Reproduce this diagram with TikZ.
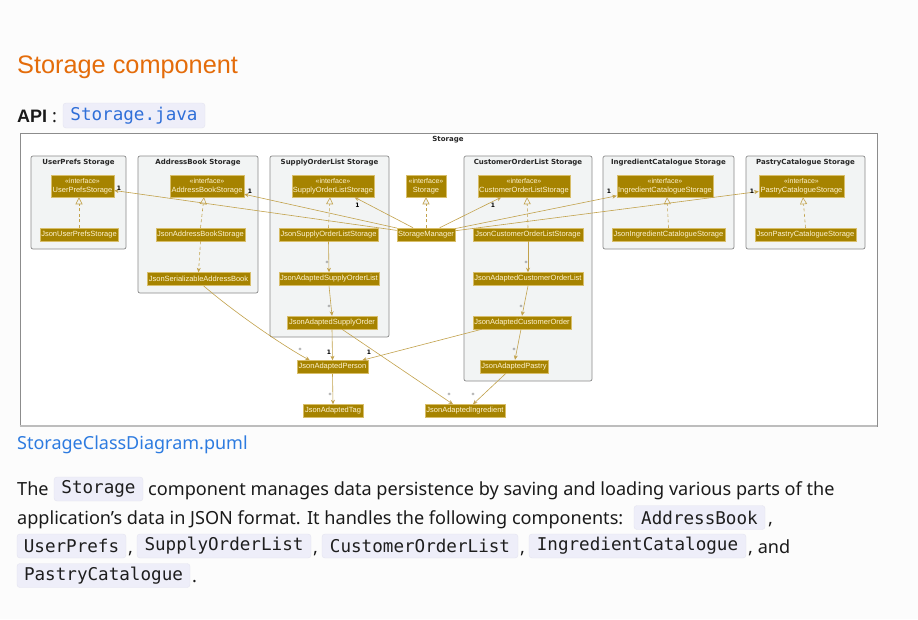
\documentclass[tikz,border=0pt]{standalone}
\usepackage{fontspec}
\setmainfont{Liberation Sans}
\setmonofont{DejaVu Sans Mono}
\newfontfamily\djv{DejaVu Sans}
\newfontfamily\bodyfont{Noto Sans}
\usetikzlibrary{arrows.meta}
\definecolor{pagebg}{HTML}{FCFCFC}
\definecolor{titleor}{HTML}{E46C0A}
\definecolor{codebg}{HTML}{EEEEF9}
\definecolor{codeedge}{HTML}{E4E4F0}
\definecolor{codeblue}{HTML}{2F6FD8}
\definecolor{codetext}{HTML}{1E1E1E}
\definecolor{linkblue}{HTML}{2D7BE0}
\definecolor{bodytext}{HTML}{1A1A1A}
\definecolor{gold}{HTML}{A68300}
\definecolor{goldedge}{HTML}{D8BE6A}
\definecolor{goldline}{HTML}{C2A24C}
\definecolor{goldtext}{HTML}{FFF4D2}
\definecolor{pkgfill}{HTML}{F2F4F4}
\definecolor{pkgline}{HTML}{8A8A8A}
\definecolor{frameline}{HTML}{8C8C8C}
\definecolor{frameshadow}{HTML}{BDBDBD}
\begin{document}
\begin{tikzpicture}[x=1pt,y=-1pt,
  cls/.style={rectangle, fill=gold, draw=goldedge, line width=0.5pt, text=goldtext,
    font=\fontsize{7.5}{9}\selectfont, inner sep=0pt, minimum height=13pt},
  iface/.style={cls, minimum height=22pt, align=center},
  pkg/.style={rectangle, rounded corners=2pt, fill=pkgfill, draw=pkgline, line width=0.7pt, inner sep=0pt},
  pkgtitle/.style={font=\djv\bfseries\fontsize{7}{8}\selectfont, inner sep=0pt, text=black!85},
  assoc/.style={draw=goldline, line width=0.6pt, -{Stealth[length=4.5pt,width=4pt,inset=1.5pt]}},
  real/.style={draw=goldline, line width=0.6pt, dash pattern=on 3pt off 2.5pt,
    -{Triangle[length=7pt,width=7pt,fill=pkgfill]}},
  dep/.style={draw=goldline, line width=0.6pt, dash pattern=on 3pt off 2.5pt,
    -{Stealth[length=4.5pt,width=4pt,inset=1.5pt]}},
  one/.style={font=\djv\bfseries\fontsize{6}{7}\selectfont, inner sep=0pt},
  star/.style={font=\djv\fontsize{6}{7}\selectfont, text=black!60, inner sep=0pt},
  codebox/.style={rectangle, rounded corners=3pt, fill=codebg, draw=codeedge, line width=0.4pt,
    inner sep=0pt, minimum height=24pt, font=\ttfamily\fontsize{17.6}{20}\selectfont, text=codetext},
  body/.style={inner sep=0pt, anchor=base west, font=\bodyfont\fontsize{18.1}{21}\selectfont, text=bodytext}
]
\fill[pagebg] (0,0) rectangle (918,619);
\useasboundingbox (0,0) rectangle (918,619);

% ---------- header ----------
\node[inner sep=0pt, anchor=base west, font=\fontsize{25.3}{30}\selectfont, text=titleor] (title) at (17,73) {Storage component};
\node[inner sep=0pt, anchor=base west, font=\bfseries\fontsize{18}{22}\selectfont, text=bodytext] (api) at (17,122.5) {API};
\node[body] (apicolon) at (52,122.5) {:};
\node[codebox, minimum width=142pt, minimum height=25pt, text=codeblue] (apicode) at (134,115.5) {Storage.java};

% ---------- diagram frame ----------
\node[rectangle, fill=white, draw=frameline, line width=0.8pt, minimum width=857pt, minimum height=293pt, inner sep=0pt] (frame) at (448.5,279.5) {};
\draw[frameshadow, line width=2pt] (frame.south west) -- (frame.south east);
\node[pkgtitle] (frametitle) at (448,139.5) {Storage};

% packages
\node[pkg, minimum width=95pt, minimum height=93pt] (p1) at (78.5,202.5) {};
\node[pkg, minimum width=120pt, minimum height=137pt] (p2) at (198,224.5) {};
\node[pkg, minimum width=119pt, minimum height=181pt] (p3) at (329.5,246.5) {};
\node[pkg, minimum width=128pt, minimum height=225pt] (p4) at (528,268.5) {};
\node[pkg, minimum width=131pt, minimum height=93pt] (p5) at (668.5,202.5) {};
\node[pkg, minimum width=119pt, minimum height=93pt] (p6) at (805.5,202.5) {};
\node[pkgtitle] (p1t) at ([yshift=-6.5pt]p1.north) {UserPrefs Storage};
\node[pkgtitle] (p2t) at ([yshift=-6.5pt]p2.north) {AddressBook Storage};
\node[pkgtitle] (p3t) at ([yshift=-6.5pt]p3.north) {SupplyOrderList Storage};
\node[pkgtitle] (p4t) at ([yshift=-6.5pt]p4.north) {CustomerOrderList Storage};
\node[pkgtitle] (p5t) at ([yshift=-6.5pt]p5.north) {IngredientCatalogue Storage};
\node[pkgtitle] (p6t) at ([yshift=-6.5pt]p6.north) {PastryCatalogue Storage};

% classes
\node[iface, minimum width=63pt] (ups) at (82.5,186) {{\fontsize{7}{9}\selectfont «interface»}\\UserPrefsStorage};
\node[cls, minimum width=78pt] (jups) at (79,234.5) {JsonUserPrefsStorage};
\node[iface, minimum width=74pt] (abs) at (207,186) {{\fontsize{7}{9}\selectfont «interface»}\\AddressBookStorage};
\node[cls, minimum width=89pt] (jabs) at (200.5,234.5) {JsonAddressBookStorage};
\node[cls, minimum width=103pt] (jsab) at (198.5,279) {JsonSerializableAddressBook};
\node[iface, minimum width=82pt] (sols) at (333,186) {{\fontsize{7}{9}\selectfont «interface»}\\SupplyOrderListStorage};
\node[iface, minimum width=40pt] (st) at (426,186) {{\fontsize{7}{9}\selectfont «interface»}\\Storage};
\node[iface, minimum width=92pt] (cols) at (524,186) {{\fontsize{7}{9}\selectfont «interface»}\\CustomerOrderListStorage};
\node[cls, minimum width=99pt] (jsols) at (328.5,234.5) {JsonSupplyOrderListStorage};
\node[cls, minimum width=58pt] (sm) at (426,234.5) {StorageManager};
\node[cls, minimum width=110pt] (jcols) at (528,234.5) {JsonCustomerOrderListStorage};
\node[iface, minimum width=96pt] (ics) at (665,186) {{\fontsize{7}{9}\selectfont «interface»}\\IngredientCatalogueStorage};
\node[cls, minimum width=113pt] (jics) at (668.5,234.5) {JsonIngredientCatalogueStorage};
\node[iface, minimum width=85pt] (pcs) at (801.5,186) {{\fontsize{7}{9}\selectfont «interface»}\\PastryCatalogueStorage};
\node[cls, minimum width=101pt] (jpcs) at (805.5,234.5) {JsonPastryCatalogueStorage};
\node[cls, minimum width=100pt] (jasol) at (329,279) {JsonAdaptedSupplyOrderList};
\node[cls, minimum width=90pt] (jaso) at (332,322.5) {JsonAdaptedSupplyOrder};
\node[cls, minimum width=110pt] (jacol) at (528,279) {JsonAdaptedCustomerOrderList};
\node[cls, minimum width=98pt] (jaco) at (522,322.5) {JsonAdaptedCustomerOrder};
\node[cls, minimum width=68pt] (jap) at (514,366.5) {JsonAdaptedPastry};
\node[cls, minimum width=71pt] (japer) at (332.5,367) {JsonAdaptedPerson};
\node[cls, minimum width=60pt] (jat) at (333,411) {JsonAdaptedTag};
\node[cls, minimum width=80pt] (jai) at (465,411) {JsonAdaptedIngredient};

% realizations
\draw[real] (jups.north) -- (jups.north |- ups.south);
\draw[real] (jabs.north) -- ([xshift=-3pt]abs.south);
\draw[real] (jsols.north) -- ([xshift=-3pt]sols.south);
\draw[real] (sm.north) -- (st.south);
\draw[real] (jcols.north) -- ([xshift=3pt]cols.south);
\draw[real] (jics.north) -- ([xshift=2pt]ics.south);
\draw[real] (jpcs.north) -- ([xshift=1.5pt]pcs.south);
\draw[dep] (jabs.south) -- (jsab.north);

% StorageManager associations
\draw[assoc] (sm) -- (ups);
\draw[assoc] (sm) -- (abs);
\draw[assoc] (sm) -- (sols);
\draw[assoc] (sm) -- (cols);
\draw[assoc] (sm) -- (ics);
\draw[assoc] (sm) -- (pcs);
\node[one] (m1) at (119,188) {1};
\node[one] (m2) at (250,191) {1};
\node[one] (m3) at (357.5,205) {1};
\node[one] (m4) at (493,205) {1};
\node[one] (m5) at (609,191) {1};
\node[one] (m6) at (752,191) {1};

% data associations
\draw[assoc] (jsols.south) -- (jasol.north);
\draw[assoc] (jasol.south) -- (jaso.north);
\draw[assoc] (jcols.south) -- (jacol.north);
\draw[assoc] (jacol.south) -- (jaco.north);
\draw[assoc] ([xshift=-1pt]jaco.south) -- ([xshift=1pt]jap.north);
\draw[assoc] ([xshift=5pt]jsab.south) .. controls (235,313) and (285,347) .. ([xshift=13pt]japer.north west);
\draw[assoc] (jaso.south) -- (japer.north);
\draw[assoc] ([xshift=9pt]jaco.south west) -- ([xshift=-6pt]japer.north east);
\draw[assoc] ([xshift=10pt]jaso.south) -- ([xshift=-12pt]jai.north);
\draw[assoc] ([xshift=-8pt]jap.south) -- ([xshift=8pt]jai.north);
\draw[assoc] (japer.south) -- (jat.north);
\node[star] (s1) at (327,263) {*};
\node[star] (s2) at (329,307) {*};
\node[star] (s3) at (526,263) {*};
\node[star] (s4) at (521,307) {*};
\node[star] (s5) at (514,350) {*};
\node[star] (s6) at (300,350) {*};
\node[star] (s7) at (449,395) {*};
\node[star] (s8) at (473,395) {*};
\node[star] (s9) at (330,395) {*};
\node[one] (o1) at (329,352) {1};
\node[one] (o2) at (369,352) {1};

% ---------- text below ----------
\node[inner sep=0pt, anchor=base west, font=\bodyfont\fontsize{18}{22}\selectfont, text=linkblue] (link) at (17,449) {StorageClassDiagram.puml};

\node[body] (l1a) at (17,495.5) {The};
\node[codebox, minimum width=89pt] (c1) at (98.5,489) {Storage};
\node[body] (l1b) at (148,495.5) {component manages data persistence by saving and loading various parts of the};

\node[body] (l2a) at (17,524) {application’s data in JSON format. It handles the following components:};
\node[codebox, minimum width=131pt] (c2) at (699.5,517.5) {AddressBook};
\node[body] (l2b) at (768,524) {,};

\node[codebox, minimum width=109pt] (c3) at (71.5,546) {UserPrefs};
\node[body] (l3a) at (128,553) {,};
\node[codebox, minimum width=174pt] (c4) at (224,546) {SupplyOrderList};
\node[body] (l3b) at (313,553) {,};
\node[codebox, minimum width=196pt] (c5) at (420,546) {CustomerOrderList};
\node[body] (l3c) at (520,553) {,};
\node[codebox, minimum width=217pt] (c6) at (637.5,546) {IngredientCatalogue};
\node[body] (l3d) at (748,553) {, and};

\node[codebox, minimum width=173pt] (c7) at (103.5,575.5) {PastryCatalogue};
\node[body] (l4a) at (192,582) {.};
\end{tikzpicture}
\end{document}
